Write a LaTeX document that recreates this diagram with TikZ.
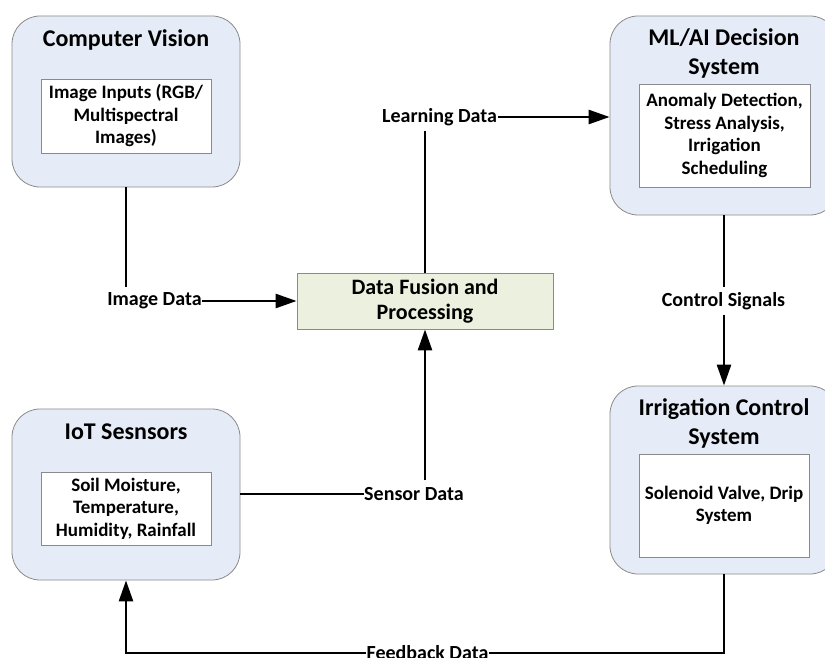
\documentclass[tikz,border=0pt]{standalone}
\usepackage{fontspec}
\setmainfont{Carlito}
\usetikzlibrary{arrows.meta}
\definecolor{outerfill}{HTML}{E6ECF7}
\definecolor{fusionfill}{HTML}{EBF1DE}
\definecolor{edgegray}{HTML}{8A8A8A}
\tikzset{
  outerbox/.style={draw=edgegray, line width=0.8pt, fill=outerfill, rounded corners=28pt, inner sep=0pt},
  innerbox/.style={draw=edgegray, line width=0.8pt, fill=white, inner sep=0pt, align=center, font=\bfseries\fontsize{19}{22.5}\selectfont},
  titletext/.style={align=center, inner sep=0pt, font=\bfseries\fontsize{24}{29}\selectfont},
  fusionbox/.style={draw=edgegray, line width=0.8pt, fill=fusionfill, inner sep=0pt, align=center, font=\bfseries\fontsize{22}{25.5}\selectfont},
  lbl/.style={inner xsep=0.5pt, inner ysep=0pt, minimum height=27pt, font=\bfseries\fontsize{20}{24}\selectfont},
  conn/.style={line width=2.6pt, line cap=butt},
  arr/.style={conn, -{Triangle[length=21pt,width=14pt]}}
}
\begin{document}
\begin{tikzpicture}[x=1pt,y=-1pt]
\useasboundingbox (0,0) rectangle (825,658);
\clip (0,0) rectangle (825,658);
\fill[white] (0,0) rectangle (825,658);

% outer boxes
\node[outerbox, minimum width=228pt, minimum height=171pt] (cv) at (126,101.5) {};
\node[outerbox, minimum width=228pt, minimum height=199pt] (ml) at (724,115.5) {};
\node[outerbox, minimum width=228pt, minimum height=188pt] (irr) at (724,480) {};
\node[outerbox, minimum width=228pt, minimum height=171pt] (iot) at (126,494.5) {};

% titles
\node[titletext] (cvt) at (126,40) {Computer Vision};
\node[titletext] (mlt) at (724,53.5) {ML/AI Decision\\System};
\node[titletext] (irrt) at (724,423.5) {Irrigation Control\\System};
\node[titletext] (iott) at (126,432) {IoT Sesnsors};

% inner boxes
\node[innerbox, minimum width=170pt, minimum height=74pt] (cvi) at (126,116) {Image Inputs (RGB/\\Multispectral\\Images)};
\node[innerbox, minimum width=171pt, minimum height=103pt] (mli) at (724.5,135.5) {Anomaly Detection,\\Stress Analysis,\\Irrigation\\Scheduling};
\node[innerbox, minimum width=170pt, minimum height=103pt] (irri) at (724,505.5) {Solenoid Valve, Drip\\System};
\node[innerbox, minimum width=170pt, minimum height=73pt] (ioti) at (126,508.5) {Soil Moisture,\\Temperature,\\Humidity, Rainfall};

% fusion
\node[fusionbox, minimum width=256pt, minimum height=56pt] (fusion) at (425,301) {Data Fusion and\\Processing};

% labels
\node[lbl] (imgdata) at (154.5,301) {Image Data};
\node[lbl] (learn) at (439.5,117) {Learning Data};
\node[lbl] (ctrl) at (723.5,301) {Control Signals};
\node[lbl] (sensor) at (414,494) {Sensor Data};
\node[lbl] (feedback) at (427.5,653) {Feedback Data};

% connectors
\draw[conn] (cv.south) -- (cv.south |- imgdata.north);
\draw[arr] (imgdata.east) -- (fusion.west |- imgdata.east);

\draw[conn] (fusion.north) -- (fusion.north |- learn.south);
\draw[arr] (learn.east) -- (learn.east -| ml.west);

\draw[conn] (ml.south) -- (ml.south |- ctrl.north);
\draw[arr] (ctrl.south -| irr.north) -- (irr.north);

\draw[conn] (sensor.west -| iot.east) -- (sensor.west);
\draw[arr] (sensor.north -| fusion.south) -- (fusion.south);

\draw[conn] (irr.south) -- (irr.south |- feedback.east) -- (feedback.east);
\draw[arr] (feedback.west) -- (iot.south |- feedback.west) -- (iot.south);
\end{tikzpicture}
\end{document}
